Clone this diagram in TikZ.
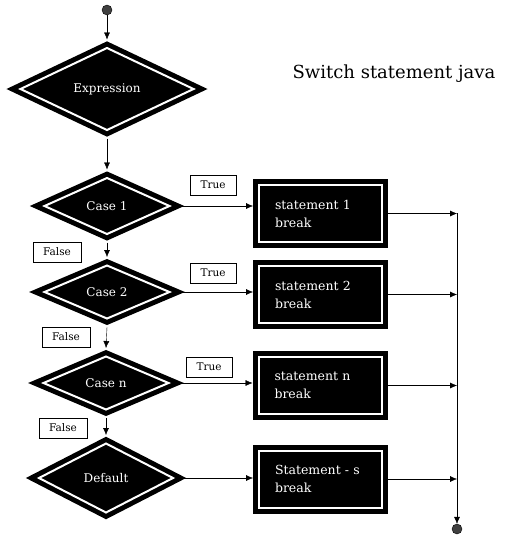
\documentclass[tikz,border=0pt]{standalone}
\usepackage{fontspec}
\setmainfont{DejaVu Serif}
\usetikzlibrary{shapes.geometric,arrows.meta}

\tikzset{
    >={Latex[length=7pt,width=6pt]},
    decision/.style={diamond, fill=black, draw=black, line width=5pt, double=white, double distance=2pt, inner sep=0pt, outer sep=6pt, text=white, font=\fontsize{12}{14}\selectfont},
    action/.style={rectangle, fill=black, draw=black, line width=5pt, double=white, double distance=2pt, inner xsep=16pt, inner ysep=0pt, outer sep=6pt, minimum height=57pt, text width=91pt, align=left, text=white, font=\fontsize{12.5}{18}\selectfont},
    tag/.style={draw, thin, fill=white, minimum width=46pt, minimum height=20pt, inner sep=1pt, font=\fontsize{10.5}{11}\selectfont},
    ball/.style={circle, draw=black, fill=black!75, minimum size=10pt, inner sep=0pt}
}

\begin{document}
\begin{tikzpicture}[x=1pt, y=-1pt]
    \useasboundingbox (0,0) rectangle (505,542);

    \node[ball] (start) at (107,10) {};
    \node[decision, minimum width=178pt, minimum height=87pt] (expr) at (107,89) {Expression};
    \node[decision, minimum width=130pt, minimum height=61pt] (case1) at (107,206) {Case 1};
    \node[decision, minimum width=130pt, minimum height=58pt] (case2) at (107,292) {Case 2};
    \node[decision, minimum width=130pt, minimum height=58pt] (casen) at (106,383) {Case n};
    \node[decision, minimum width=139pt, minimum height=74pt] (default) at (106,478) {Default};

    \node[action] (stmt1) at (320.5,213.5) {statement 1\\break};
    \node[action] (stmt2) at (320.5,294.5) {statement 2\\break};
    \node[action] (stmtn) at (320,385.5) {statement n\\break};
    \node[action] (stmts) at (320.5,479) {Statement - s\\break};

    \node[tag] (t1) at (213,185) {True};
    \node[tag] (t2) at (213,273) {True};
    \node[tag] (tn) at (209,367) {True};
    \node[tag, minimum width=48pt] (f1) at (57,252) {False};
    \node[tag, minimum width=48pt] (f2) at (66,337) {False};
    \node[tag, minimum width=48pt] (fn) at (63,428) {False};

    \node[font=\fontsize{18}{20}\selectfont] (title) at (394,74) {Switch statement java};

    \coordinate (top) at (457,213);
    \node[ball] (stop) at (457,529) {};

    \draw[->, thin] (start) -- (expr.north);
    \draw[->, thin] (expr.south) -- (case1.north);
    \draw[->, thin] (case1.south) -- (case2.north);
    \draw[->, thin] (case2.south) -- (casen.north);
    \draw[->, thin] (casen.south) -- (default.north);

    \draw[->, thin] (case1.east) -- (case1.east -| stmt1.west);
    \draw[->, thin] (case2.east) -- (case2.east -| stmt2.west);
    \draw[->, thin] (casen.east) -- (casen.east -| stmtn.west);
    \draw[->, thin] (default.east) -- (default.east -| stmts.west);

    \draw[->, thin] (stmt1.east) -- (stmt1.east -| top);
    \draw[->, thin] (stmt2.east) -- (stmt2.east -| top);
    \draw[->, thin] (stmtn.east) -- (stmtn.east -| top);
    \draw[->, thin] (stmts.east) -- (stmts.east -| top);
    \draw[->, thin] (top) -- (stop.north);
\end{tikzpicture}
\end{document}
